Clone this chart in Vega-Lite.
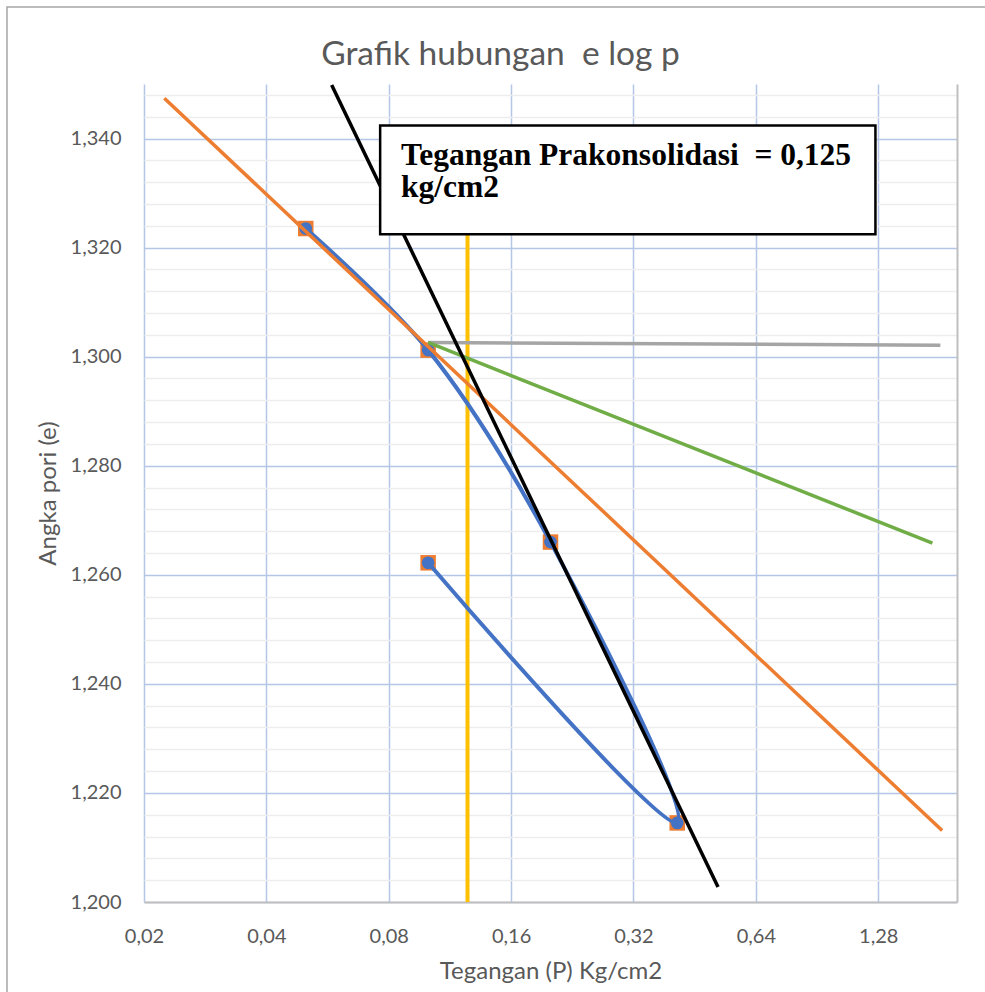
{
  "$schema": "https://vega.github.io/schema/vega-lite/v6.json",
  "width": 813,
  "height": 818,
  "autosize": {"type": "none"},
  "padding": {"left": 144, "top": 84, "right": 28, "bottom": 90},
  "background": "white",
  "config": {"view": {"stroke": null}, "font": "Lato"},
  "title": {
    "text": "Grafik hubungan\u00a0 e log p",
    "fontSize": 33.5,
    "font": "Lato",
    "fontWeight": "normal",
    "color": "#595959",
    "anchor": "middle",
    "frame": "group",
    "dx": -50,
    "dy": 112,
    "offset": 20,
    "baseline": "alphabetic"
  },
  "datasets": {
    "pts": [
      {"p": 0.05, "e": 1.3235, "i": 1},
      {"p": 0.1, "e": 1.3012, "i": 2},
      {"p": 0.2, "e": 1.266, "i": 3},
      {"p": 0.41, "e": 1.2145, "i": 4},
      {"p": 0.1, "e": 1.2622, "i": 5}
    ],
    "garis": [
      {"g": "oranye", "p": 0.02244, "e": 1.3474},
      {"g": "oranye", "p": 1.8386, "e": 1.2131},
      {"g": "abu", "p": 0.1, "e": 1.3026},
      {"g": "abu", "p": 1.82, "e": 1.3021},
      {"g": "hijau", "p": 0.1, "e": 1.3026},
      {"g": "hijau", "p": 1.74, "e": 1.2658},
      {"g": "hitam", "p": 0.0579, "e": 1.3498},
      {"g": "hitam", "p": 0.5166, "e": 1.20275}
    ],
    "pc": [{"p": 0.125, "e": 1.2, "e2": 1.3225, "ket": "Tegangan Prakonsolidasi\u00a0 = 0,125\nkg/cm2"}]
  },
  "layer": [
    {
      "encoding": {
        "x": {
          "field": "p",
          "type": "quantitative",
          "scale": {"type": "log", "base": 2, "domain": [0.02, 2], "nice": false, "zero": false},
          "axis": {
            "orient": "bottom",
            "values": [0.02, 0.04, 0.08, 0.16, 0.32, 0.64, 1.28],
            "labelExpr": "replace(format(datum.value, '.2f'), '.', ',')",
            "grid": true,
            "gridColor": "#B4C7E7",
            "gridWidth": 1.5,
            "domain": true,
            "domainColor": "#BFBFBF",
            "domainWidth": 2,
            "ticks": false,
            "labelFont": "Lato",
            "labelFontSize": 20,
            "labelColor": "#595959",
            "labelPadding": 24,
            "labelFlush": false,
            "labelOverlap": false,
            "title": "Tegangan (P) Kg/cm2",
            "titleFont": "Lato",
            "titleFontSize": 24,
            "titleFontWeight": "normal",
            "titleColor": "#595959",
            "titlePadding": 13
          }
        },
        "y": {
          "field": "e",
          "type": "quantitative",
          "scale": {"domain": [1.2, 1.35], "nice": false, "zero": false},
          "axis": {
            "orient": "left",
            "values": [1.2, 1.22, 1.24, 1.26, 1.28, 1.3, 1.32, 1.34],
            "labelExpr": "replace(format(datum.value, '.3f'), '.', ',')",
            "grid": true,
            "gridColor": "#B4C7E7",
            "gridWidth": 1.5,
            "domain": false,
            "ticks": false,
            "labelFont": "Lato",
            "labelFontSize": 20,
            "labelColor": "#595959",
            "labelPadding": 23,
            "labelOverlap": false,
            "title": "Angka pori (e)",
            "titleFont": "Lato",
            "titleFontSize": 24,
            "titleFontWeight": "normal",
            "titleColor": "#595959",
            "titlePadding": 10
          }
        }
      },
      "layer": [
        {
          "data": {"name": "pc"},
          "mark": {"type": "rule", "color": "#FFC000", "strokeWidth": 4},
          "encoding": {"y2": {"field": "e2"}}
        },
        {
          "data": {"name": "pts"},
          "mark": {"type": "point", "shape": "square", "filled": true, "color": "#ED7D31", "size": 240, "opacity": 1}
        },
        {
          "data": {"name": "pts"},
          "mark": {"type": "line", "interpolate": "catmull-rom", "color": "#4472C4", "strokeWidth": 4},
          "encoding": {"order": {"field": "i", "type": "quantitative"}}
        },
        {
          "data": {"name": "pts"},
          "mark": {"type": "circle", "color": "#4472C4", "size": 160, "opacity": 1}
        },
        {
          "data": {"name": "garis"},
          "transform": [{"filter": "datum.g === 'oranye'"}],
          "mark": {"type": "line", "color": "#ED7D31", "strokeWidth": 3.5}
        },
        {
          "data": {"name": "garis"},
          "transform": [{"filter": "datum.g === 'abu'"}],
          "mark": {"type": "line", "color": "#A5A5A5", "strokeWidth": 3.5}
        },
        {
          "data": {"name": "garis"},
          "transform": [{"filter": "datum.g === 'hijau'"}],
          "mark": {"type": "line", "color": "#70AD47", "strokeWidth": 3.5}
        },
        {
          "data": {"name": "garis"},
          "transform": [{"filter": "datum.g === 'hitam'"}],
          "mark": {"type": "line", "color": "#000000", "strokeWidth": 3.5}
        },
        {
          "data": {"name": "pc"},
          "mark": {"type": "rect", "fill": "white", "stroke": "black", "strokeWidth": 2.5},
          "encoding": {
            "x": {"datum": 0.0762, "type": "quantitative"},
            "x2": {"datum": 1.26},
            "y": {"datum": 1.3424, "type": "quantitative"},
            "y2": {"datum": 1.32245}
          }
        },
        {
          "data": {"name": "pc"},
          "mark": {
            "type": "text",
            "font": "Liberation Serif",
            "fontWeight": "bold",
            "fontSize": 31.5,
            "color": "black",
            "align": "left",
            "baseline": "alphabetic",
            "lineBreak": "\n",
            "lineHeight": 32
          },
          "encoding": {
            "x": {"datum": 0.0858, "type": "quantitative"},
            "y": {"datum": 1.3351, "type": "quantitative"},
            "text": {"field": "ket"}
          }
        },
        {
          "data": {"name": "pc"},
          "mark": {"type": "rect", "fillOpacity": 0, "stroke": "#A6A6A6", "strokeWidth": 1.5},
          "encoding": {
            "x": {"datum": 0.009204, "type": "quantitative"},
            "x2": {"datum": 6},
            "y": {"datum": 1.36412, "type": "quantitative"},
            "y2": {"datum": 1.15}
          }
        }
      ]
    },
    {
      "data": {"name": "pts"},
      "mark": {"type": "point", "opacity": 0},
      "encoding": {
        "x": {"field": "p", "type": "quantitative", "axis": null},
        "y": {
          "field": "e",
          "type": "quantitative",
          "axis": {
            "orient": "right",
            "values": [1.204, 1.208, 1.212, 1.216, 1.224, 1.228, 1.232, 1.236, 1.244, 1.248, 1.252, 1.256, 1.264, 1.268, 1.272, 1.276, 1.284, 1.288, 1.292, 1.296, 1.304, 1.308, 1.312, 1.316, 1.324, 1.328, 1.332, 1.336, 1.344, 1.348],
            "grid": true,
            "gridColor": "#EDEDED",
            "gridWidth": 1.5,
            "labels": false,
            "ticks": false,
            "domain": true,
            "domainColor": "#BFBFBF",
            "domainWidth": 2,
            "title": null
          }
        }
      }
    }
  ],
  "resolve": {"axis": {"x": "independent", "y": "independent"}}
}
